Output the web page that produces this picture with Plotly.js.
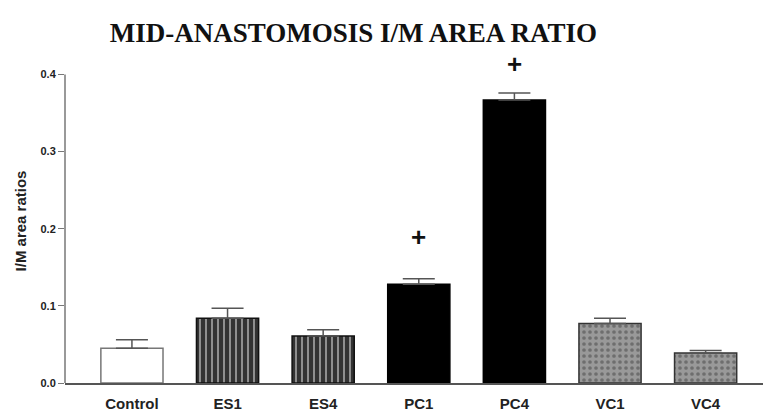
<!DOCTYPE html>
<html>
<head>
<meta charset="utf-8">
<script src="https://cdn.plot.ly/plotly-3.0.1.min.js"></script>
<style>html,body{margin:0;padding:0;background:#fff;}#chart{width:765px;height:416px;}</style>
</head>
<body>
<div id="chart"></div>
<script>
const groups = ["Control", "ES1", "ES4", "PC1", "PC4", "VC1", "VC4"];
const ratios = [0.045, 0.084, 0.061, 0.128, 0.367, 0.077, 0.039];
const sem = [0.011, 0.013, 0.008, 0.007, 0.009, 0.007, 0.003];
const sigMarks = ["", "", "", "+", "+", "", ""];
const sigLevels = [null, null, null, 0.189, 0.414, null, null];
const yTicks = [0, 0.1, 0.2, 0.3, 0.4];
const yTickText = ["0.0", "0.1", "0.2", "0.3", "0.4"];

const fgCols = ["#ffffff", "#a8a8a8", "#a8a8a8", "#000000", "#000000", "#2a2a2a", "#2a2a2a"];
const shapes = ["", "|", "|", "", "", ".", "."];
const bgCols = ["#ffffff", "#333333", "#333333", "#000000", "#000000", "#999999", "#999999"];
const lineCols = ["#777777", "#111111", "#111111", "#000000", "#000000", "#333333", "#333333"];

const bars = {
  type: "bar",
  x: groups,
  y: ratios,
  width: 0.65,
  marker: {
    color: bgCols,
    line: {color: lineCols, width: 1.5},
    pattern: {shape: shapes, fgcolor: fgCols, bgcolor: bgCols, size: 6, solidity: 0.3, fillmode: "overlay"}
  },
  error_y: {type: "data", symmetric: false, array: sem, arrayminus: sem.map(() => 0), color: "#555555", thickness: 1.5, width: 16},
  hoverinfo: "skip",
  showlegend: false
};

const annotations = groups.map((g, i) => ({
  x: g, y: sigLevels[i], xref: "x", yref: "y",
  text: "<b>" + sigMarks[i] + "</b>", showarrow: false,
  font: {family: "Liberation Sans, Arial, sans-serif", size: 26, color: "#111"}
})).filter((a, i) => sigMarks[i] !== "");

const layout = {
  width: 765, height: 416,
  margin: {l: 65, r: 2, t: 58.5, b: 33},
  paper_bgcolor: "#fff", plot_bgcolor: "#fff",
  title: {text: "<b>MID-ANASTOMOSIS I/M AREA RATIO</b>", x: 0.462, xanchor: "center", y: 0.922, yanchor: "middle",
          font: {family: "Liberation Serif, Times New Roman, serif", size: 27, color: "#111"}},
  annotations: annotations,
  shapes: [{type: "line", xref: "paper", yref: "y", x0: 0, x1: 0, y0: yTicks[0], y1: yTicks[yTicks.length - 1],
            line: {color: "#777", width: 1.5}}],
  xaxis: {
    type: "category", range: [-0.7, 6.6],
    showline: true, linecolor: "#555", linewidth: 1.5,
    ticks: "", showgrid: false, zeroline: false,
    tickfont: {family: "Liberation Sans, Arial, sans-serif", size: 15, color: "#222", weight: "bold"},
    ticklabelstandoff: 6
  },
  yaxis: {
    range: [0, 0.42], tickvals: yTicks, ticktext: yTickText,
    showline: false,
    ticks: "outside", ticklen: 6, tickcolor: "#777", tickwidth: 1,
    showgrid: false, zeroline: false,
    tickfont: {family: "Liberation Sans, Arial, sans-serif", size: 11, color: "#222", weight: "bold"},
    title: {text: "<b>I/M area ratios</b>", standoff: 10, font: {family: "Liberation Sans, Arial, sans-serif", size: 15, color: "#222"}}
  }
};

Plotly.newPlot("chart", [bars], layout, {displayModeBar: false, staticPlot: true});
</script>
</body>
</html>
